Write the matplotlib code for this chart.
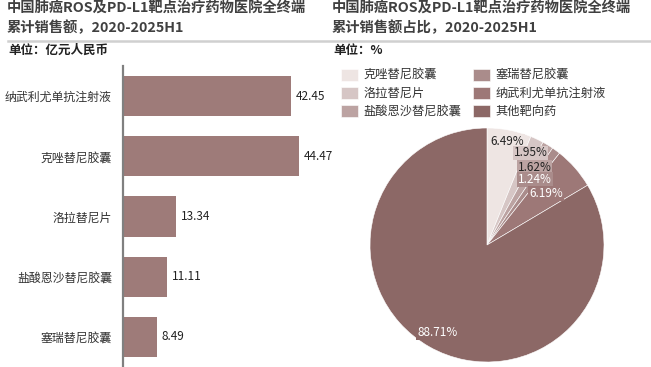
import numpy as np
import matplotlib.pyplot as plt
from matplotlib.lines import Line2D

plt.rcParams['font.family'] = ['Noto Sans CJK SC', 'DejaVu Sans']

# left: cumulative sales, 100 million RMB
bar_names = ['纳武利尤单抗注射液', '克唑替尼胶囊', '洛拉替尼片', '盐酸恩沙替尼胶囊', '塞瑞替尼胶囊']
bar_values = [42.45, 44.47, 13.34, 11.11, 8.49]

# right: share, %
pie_names = ['克唑替尼胶囊', '洛拉替尼片', '盐酸恩沙替尼胶囊', '塞瑞替尼胶囊', '纳武利尤单抗注射液', '其他靶向药']
pie_values = [6.49, 1.95, 1.62, 1.24, 6.19, 88.71]
pie_colors = ['#EEE5E3', '#D6C6C5', '#BCA3A2', '#AA8C8B', '#9D7877', '#8C6866']
label_dist = [0.9, 0.87, 0.78, 0.69, 0.67, 0.86]
label_colors = ['#222222', '#222222', '#222222', 'white', 'white', 'white']

W, H = 651, 367
fig = plt.figure(figsize=(W / 100, H / 100), dpi=100)

title_kw = dict(fontsize=10.3, fontweight='bold', color='#404040', va='top', ha='left')
fig.text(7 / W, 1 - 2 / H, '中国肺癌ROS及PD-L1靶点治疗药物医院全终端\n累计销售额，2020-2025H1',
         linespacing=1.35, **title_kw)
fig.text(332 / W, 1 - 2 / H, '中国肺癌ROS及PD-L1靶点治疗药物医院全终端\n累计销售额占比，2020-2025H1',
         linespacing=1.35, **title_kw)
fig.add_artist(Line2D([8 / W, 1.0], [1 - 41 / H] * 2, color='#D0D0D0', lw=1.8,
                      transform=fig.transFigure))
fig.text(8 / W, 1 - 44 / H, '单位：亿元人民币', fontsize=9, fontweight='bold',
         color='#222222', va='top')
fig.text(333 / W, 1 - 44 / H, '单位：%', fontsize=9, fontweight='bold',
         color='#222222', va='top')

# bar chart
ax = fig.add_axes([123 / W, 0, 207 / W, 1 - 66 / H])
y = np.arange(len(bar_values))
ax.barh(y, bar_values, height=0.667, color='#9E7B79')
ax.set_ylim(len(bar_values) - 0.5, -0.5)
ax.set_xlim(0, 52.3)
ax.set_yticks(y)
ax.set_yticklabels(bar_names, fontsize=8.6, color='#333333')
ax.tick_params(axis='y', length=0, pad=8)
ax.set_xticks([])
for s in ['top', 'right', 'bottom']:
    ax.spines[s].set_visible(False)
ax.spines['left'].set_color('#808080')
ax.spines['left'].set_linewidth(1.6)
for yi, v in zip(y, bar_values):
    ax.text(v + 1.2, yi, f'{v:.2f}', va='center', ha='left', fontsize=8.5, color='#222222')

# pie chart
R = 117
pax = fig.add_axes([(487 - R) / W, (H - 245 - R) / H, 2 * R / W, 2 * R / H])
wedges, _ = pax.pie(pie_values, colors=pie_colors, startangle=90, counterclock=False,
                    radius=1, wedgeprops=dict(linewidth=0.4, edgecolor='white'))
pax.set_xlim(-1, 1)
pax.set_ylim(-1, 1)
pax.set_aspect('equal')
for w, v, d, c, fc in zip(wedges, pie_values, label_dist, label_colors, pie_colors):
    ang = np.deg2rad((w.theta1 + w.theta2) / 2)
    pax.text(d * np.cos(ang), d * np.sin(ang), f'{v:.2f}%', ha='center', va='center',
             fontsize=8.5, color=c,
             bbox=dict(boxstyle='square,pad=0.08', facecolor=fc, edgecolor='none'))

fig.legend(wedges, pie_names, ncol=2, loc='upper left',
           bbox_to_anchor=(336 / W, 1 - 64 / H), frameon=False, fontsize=8.8,
           handlelength=1.4, handleheight=1.1, handletextpad=0.45,
           columnspacing=0.9, labelspacing=0.42, labelcolor='#333333', borderaxespad=0)

fig.savefig('out.png', dpi=100)
